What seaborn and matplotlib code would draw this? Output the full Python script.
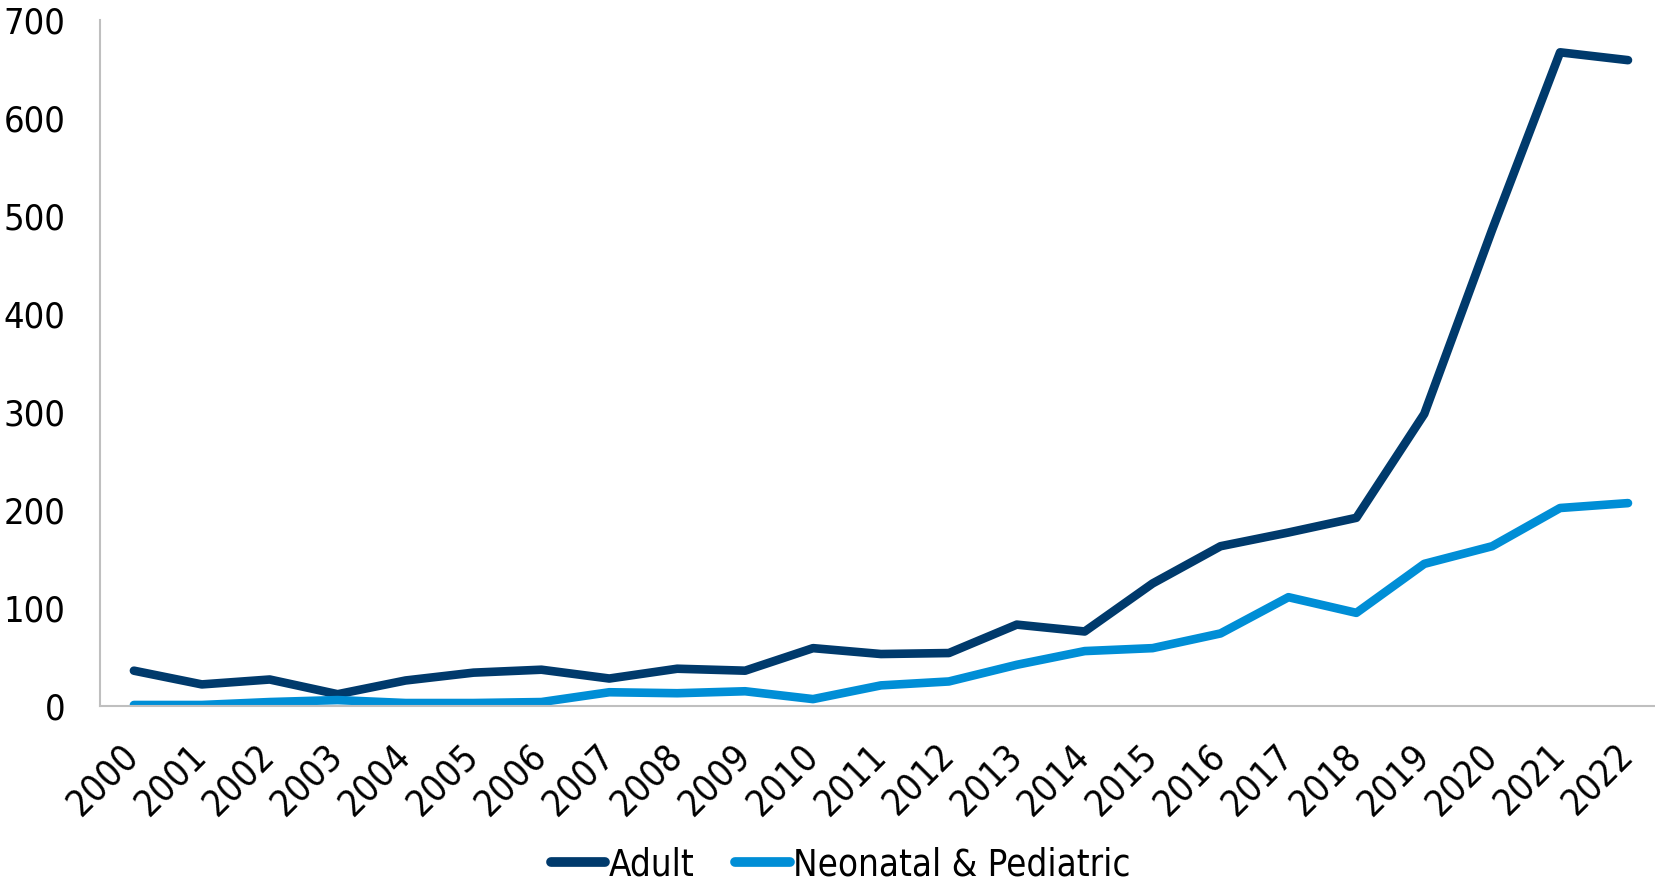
import pandas as pd
import seaborn as sns
from matplotlib import pyplot as plt

# data
years = list(range(2000, 2023))
adult = [36, 22, 27, 12, 26, 34, 37, 28, 38, 36, 59, 53, 54, 83, 76,
         125, 163, 177, 192, 298, 486, 667, 659]
neonatal = [1, 1, 4, 6, 3, 3, 4, 14, 13, 15, 7, 21, 25, 42, 56,
            59, 74, 111, 95, 145, 163, 202, 207]
series_names = ["Adult", "Neonatal & Pediatric"]
colors = ["#003A6C", "#008ED6"]

df = pd.DataFrame({
    "year": years * 2,
    "value": adult + neonatal,
    "series": [series_names[0]] * len(years) + [series_names[1]] * len(years),
})

sns.set_style("white")
plt.rcParams["font.family"] = ["DejaVu Sans"]
plt.rcParams["font.stretch"] = "condensed"
plt.rcParams["text.color"] = "black"
plt.rcParams["xtick.color"] = "black"
plt.rcParams["ytick.color"] = "black"

fig = plt.figure(figsize=(16.55, 8.84), dpi=100)
ax = fig.add_axes([0.0604, 0.2014, 0.9438, 0.7760])

sns.lineplot(data=df, x="year", y="value", hue="series", palette=colors,
             linewidth=6.2, ax=ax, legend=True)
for ln in ax.lines:
    ln.set_solid_capstyle("round")
    ln.set_solid_joinstyle("round")

ax.set_xlim(1999.5, 2022.5)
ax.set_ylim(0, 700)
ax.set_xticks(years)
ax.set_xticklabels([str(y) for y in years], rotation=45, ha="right",
                   va="center", rotation_mode="anchor", fontsize=26.5)
ax.set_yticks(range(0, 701, 100))
ax.tick_params(axis="y", labelsize=26, length=0, pad=25, labelcolor="black")
ax.tick_params(axis="x", length=0, pad=32, labelcolor="black")
ax.set_xlabel("")
ax.set_ylabel("")

for side in ["top", "right"]:
    ax.spines[side].set_visible(False)
for side in ["left", "bottom"]:
    ax.spines[side].set_color("#BFBFBF")
    ax.spines[side].set_linewidth(1.5)

handles, labels = ax.get_legend_handles_labels()
ax.legend_.remove()
leg = fig.legend(handles, labels, loc="center", bbox_to_anchor=(0.508, 0.022),
                 ncol=2, frameon=False, fontsize=26.3, handlelength=1.5,
                 handletextpad=0.1, columnspacing=1.1, labelcolor="black")
for h in leg.get_lines():
    h.set_linewidth(7)
    h.set_solid_capstyle("round")

fig.savefig("out.png", dpi=100)
